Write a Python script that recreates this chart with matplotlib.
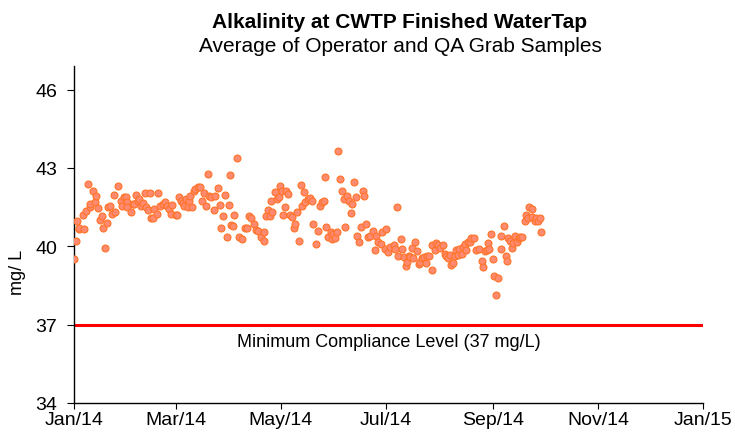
import datetime as dt
import matplotlib
matplotlib.use("Agg")
import matplotlib.pyplot as plt
import matplotlib.dates as mdates
import numpy as np

plt.rcParams['font.family'] = ['Liberation Sans', 'DejaVu Sans']

# days after 1 Jan 2014
days = [0, 1, 2, 2.7, 3, 5, 6, 7, 8, 9, 9.5, 11, 12, 13, 14, 15, 16, 17, 18, 19,
        20, 21, 22, 23, 24, 25.5, 27, 28, 29, 30, 30.5, 31, 33, 34, 35, 36, 37, 38, 39, 40,
        41, 42, 43, 44, 44.5, 46, 46.5, 48, 49, 50, 51.5, 53, 54, 55, 56, 57, 59, 60, 61, 62,
        63, 64, 65, 66, 67, 67.5, 68.5, 69.5, 70.5, 72, 73, 74, 75.5, 76.5, 78, 78.5, 79.5, 81, 82, 83.5,
        84.5, 85.5, 86.5, 87.5, 89, 90, 90.5, 91, 92, 93, 94.5, 95.5, 97.5, 99.5, 100.5, 101.5, 102.5, 104.5, 105.5, 107,
        108.5, 110, 110.5, 111.5, 112.5, 113.5, 114.5, 115, 116.5, 118, 119, 119.5, 120.5, 121.5, 122.5, 123, 124, 125.5, 126.5, 127.5,
        128.5, 129.5, 130.5, 131.5, 132.5, 133.5, 134, 136, 137, 138, 138.5, 140.5, 141.5, 143, 144, 145, 145.5, 146.5, 147.5, 149,
        149.5, 150.5, 151.5, 152.5, 153, 154.5, 155.5, 156.5, 157.5, 158.5, 159.5, 160.5, 161.5, 162.5, 163.5, 164.5, 165.5, 166.5, 167.5, 168.5,
        169.5, 170.5, 172, 173.5, 174.5, 175.5, 176.5, 178, 179, 180.5, 181, 182, 183.5, 185.5, 186, 187.5, 188, 189.5, 190.5, 191.5,
        192.5, 193.5, 194.5, 195, 196, 197, 198, 199, 200, 201, 202, 203, 204, 205, 206, 207.5, 208, 209.5, 210, 211.5,
        212.5, 214, 215, 216, 217, 218, 219, 220, 221, 221.5, 223, 223.5, 225, 225.5, 227, 227.5, 228.5, 230, 230.5, 232,
        233, 235, 236.5, 237.5, 238.5, 239.5, 240.5, 241, 242, 243, 244, 245, 246, 247.5, 248, 249.5, 250.5, 251.5, 252, 253,
        254, 255, 256, 257, 258, 259, 260, 261.5, 262.5, 263.5, 264, 265.5, 266, 267.5, 268, 269.5, 270.5, 271]

alk = [39.52, 40.2, 40.95, 40.67, 40.7, 41.18, 40.66, 41.36, 42.39, 41.5, 41.6, 42.13, 41.69, 41.92, 41.47, 41.0, 41.14, 40.69, 39.95, 40.9,
       41.52, 41.54, 41.24, 41.97, 41.33, 42.29, 41.75, 41.56, 41.88, 41.9, 41.71, 41.5, 41.3, 41.6, 41.6, 41.97, 41.75, 41.82, 41.56, 41.66,
       42.03, 41.5, 41.4, 42.03, 41.09, 41.08, 41.43, 41.24, 42.05, 41.56, 41.6, 41.69, 41.56, 41.43, 41.24, 41.59, 41.18, 41.2, 41.88, 41.75,
       41.66, 41.56, 41.82, 41.5, 41.75, 41.92, 41.5, 42.1, 42.2, 42.26, 42.26, 41.75, 42.05, 41.53, 42.77, 41.94, 41.88, 41.4, 41.94, 42.23,
       41.59, 40.69, 41.15, 41.97, 40.35, 41.59, 42.74, 40.82, 40.79, 41.2, 43.37, 40.35, 40.28, 40.69, 40.69, 41.15, 41.08, 40.86, 40.64, 40.6,
       40.35, 40.22, 40.54, 41.15, 41.4, 41.15, 41.75, 41.33, 42.07, 41.82, 41.88, 42.29, 42.13, 41.18, 41.5, 42.1, 42.01, 41.2, 41.11, 40.69,
       40.86, 41.33, 40.22, 42.33, 41.56, 42.07, 41.71, 41.82, 41.84, 41.75, 40.86, 40.09, 40.6, 41.56, 41.69, 41.75, 42.67, 40.73, 40.35, 40.54,
       40.28, 40.47, 40.31, 40.54, 43.63, 42.58, 42.13, 41.82, 40.73, 41.94, 41.75, 41.28, 41.6, 42.45, 41.88, 40.41, 40.18, 40.73, 42.1, 41.92,
       40.86, 40.35, 40.41, 40.6, 39.87, 40.41, 40.18, 40.09, 40.56, 39.9, 40.67, 39.77, 39.97, 40.03, 39.9, 41.5, 39.64, 40.26, 39.9, 39.58,
       39.26, 39.41, 39.62, 39.58, 39.93, 39.54, 40.18, 39.8, 39.33, 39.39, 39.54, 39.58, 39.36, 39.62, 39.62, 39.11, 40.05, 39.87, 40.13, 40.03,
       39.93, 40.03, 39.71, 39.64, 39.54, 39.67, 39.29, 39.36, 39.62, 39.84, 39.67, 39.9, 39.71, 39.97, 40.09, 39.87, 40.18, 40.15, 40.31, 40.31,
       39.87, 39.9, 39.45, 39.2, 39.8, 39.87, 40.13, 39.9, 40.47, 39.52, 38.85, 38.14, 38.78, 39.9, 40.39, 40.79, 39.64, 39.45, 40.31, 40.22,
       39.93, 40.13, 40.41, 40.15, 40.31, 40.35, 40.35, 40.95, 41.18, 41.08, 41.5, 41.43, 41.11, 40.98, 41.08, 40.98, 41.08, 40.54]

min_level = 37
ticks_y = [34, 37, 40, 43, 46]
tick_months = [(2014, 1), (2014, 3), (2014, 5), (2014, 7), (2014, 9), (2014, 11), (2015, 1)]

start = mdates.date2num(dt.datetime(2014, 1, 1))
x = start + np.array(days)

fig = plt.figure(figsize=(7.35, 4.35), dpi=100)
ax = fig.add_axes([74/735, 1-404/435, (703-74)/735, (404-67)/435])

ax.plot(x, alk, linestyle='none', marker='o', markersize=5.0,
        markerfacecolor='#ff8a70', markeredgecolor='#ff7428', markeredgewidth=0.8, zorder=3)
ax.axhline(min_level, color='#ff0000', linewidth=2.2, zorder=2)
ax.text(start + 182.5, 36.35, 'Minimum Compliance Level (37 mg/L)', ha='center', va='center', fontsize=13)

xt = [mdates.date2num(dt.datetime(y, m, 1)) for y, m in tick_months]
ax.set_xticks(xt)
ax.set_xticklabels([dt.datetime(y, m, 1).strftime('%b/%y') for y, m in tick_months])
ax.set_xlim(xt[0], xt[-1])
ax.set_yticks(ticks_y)
ax.set_ylim(34, 46.9)

for s in ['top', 'right']:
    ax.spines[s].set_visible(False)
for s in ['left', 'bottom']:
    ax.spines[s].set_linewidth(1.0)
ax.tick_params(axis='both', direction='out', length=5, width=0.8, labelsize=14)
ax.tick_params(axis='y', pad=7)
ax.tick_params(axis='x', length=4, pad=1.5)

fig.text(400/735, 1-22/435, 'Alkalinity at CWTP Finished WaterTap', ha='center', va='center',
         fontsize=15, fontweight='bold')
fig.text(400/735, 1-46/435, 'Average of Operator and QA Grab Samples', ha='center', va='center',
         fontsize=15)
fig.text(18/735, 1-272/435, 'mg/ L', rotation=90, ha='center', va='center', fontsize=13)

plt.savefig('out.png', dpi=100)
